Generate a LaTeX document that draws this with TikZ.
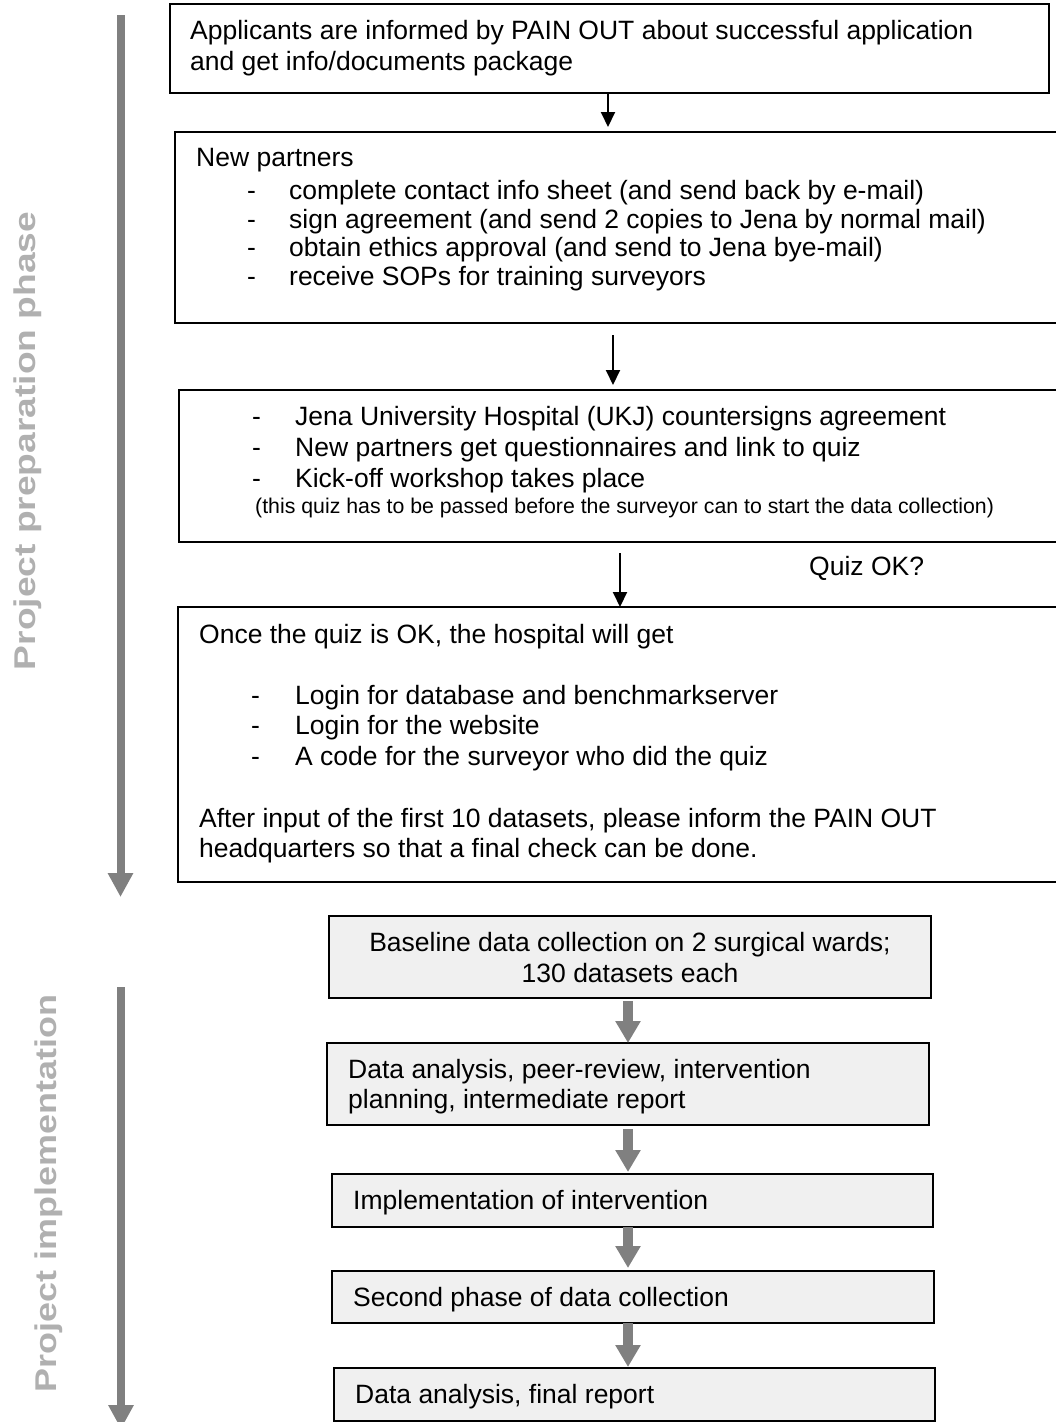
\documentclass[tikz,border=0pt]{standalone}
\usepackage{fontspec}
\setmainfont{Liberation Sans}
\usetikzlibrary{arrows.meta}
\definecolor{barg}{HTML}{808080}
\definecolor{labg}{HTML}{B0B0B0}
\definecolor{boxf}{HTML}{F0F0F0}
\begin{document}
\begin{tikzpicture}[x=1pt,y=-1pt,
  box/.style={draw=black, line width=1.3pt, fill=white, rectangle, inner sep=0pt, outer sep=0pt, anchor=north west},
  gbox/.style={box, fill=boxf},
  txt/.style={anchor=base west, inner sep=0pt, font=\fontsize{26.5pt}{30pt}\selectfont},
  ctxt/.style={txt, anchor=base},
  smalltxt/.style={txt, font=\fontsize{21.3pt}{25pt}\selectfont},
  blk/.style={line width=2pt, -{Triangle[width=14pt,length=15pt]}},
  garr/.style={draw=barg, line width=10pt, -{Triangle[width=24pt,length=22pt]}},
  phasebar/.style={draw=barg, line width=8pt, -{Triangle[width=24pt,length=24pt]}},
  lab/.style={rotate=90, inner sep=0pt, text=labg, font=\fontsize{30pt}{36pt}\selectfont\bfseries}]
\useasboundingbox (0,0) rectangle (1056,1422);
\clip (0,0) rectangle (1056,1422);

% boxes
\node[box, minimum width=879pt, minimum height=89pt] (b1) at (170,4) {};
\node[box, minimum width=895pt, minimum height=191pt] (b2) at (175,132) {};
\node[box, minimum width=891pt, minimum height=152pt] (b3) at (179,390) {};
\node[box, minimum width=892pt, minimum height=275pt] (b4) at (178,607) {};
\node[gbox, minimum width=602pt, minimum height=82pt] (b5) at (329,916) {};
\node[gbox, minimum width=602pt, minimum height=82pt] (b6) at (327,1043) {};
\node[gbox, minimum width=601pt, minimum height=53pt] (b7) at (332,1174) {};
\node[gbox, minimum width=602pt, minimum height=52pt] (b8) at (332,1271) {};
\node[gbox, minimum width=601pt, minimum height=53pt] (b9) at (334,1368) {};

% phase bars and labels
\coordinate (pb1) at (120.5,15);
\coordinate (pb2) at (120.5,897);
\coordinate (ib1) at (121,987);
\coordinate (ib2) at (121,1429);
\draw[phasebar] (pb1) -- (pb2);
\draw[phasebar] (ib1) -- (ib2);
\node[lab] (lab1) at (27.5,441) {\scalebox{1.238}[1]{Project preparation phase}};
\node[lab] (lab2) at (48.5,1193.5) {\scalebox{1.198}[1]{Project implementation}};

% black arrows
\coordinate (ax1) at (608,0);
\coordinate (ax2) at (613,0);
\coordinate (ax3) at (620,0);
\draw[blk, shorten >=5pt] (b1.south -| ax1) -- (b2.north -| ax1);
\draw[blk, shorten <=12pt, shorten >=5pt] (b2.south -| ax2) -- (b3.north -| ax2);
\draw[blk, shorten <=11pt] (b3.south -| ax3) -- (b4.north -| ax3);

% gray arrows
\coordinate (ga) at (628,0);
\draw[garr, shorten <=3pt] (b5.south -| ga) -- (b6.north -| ga);
\draw[garr, shorten <=4pt, shorten >=2pt] (b6.south -| ga) -- (b7.north -| ga);
\draw[garr, shorten >=3pt] (b7.south -| ga) -- (b8.north -| ga);
\draw[garr, shorten >=1pt] (b8.south -| ga) -- (b9.north -| ga);

% texts
\node[txt] (t1a) at (190,39) {Applicants are informed by PAIN OUT about successful application};
\node[txt] (t1b) at (190,70) {and get info/documents package};

\node[txt] (t2a) at (196,166) {New partners};
\node[txt] (t2b) at (247,199) {\makebox[42pt][l]{-}complete contact info sheet (and send back by e-mail)};
\node[txt] (t2c) at (247,228) {\makebox[42pt][l]{-}sign agreement (and send 2 copies to Jena by normal mail)};
\node[txt] (t2d) at (247,256) {\makebox[42pt][l]{-}obtain ethics approval (and send to Jena bye-mail)};
\node[txt] (t2e) at (247,285) {\makebox[42pt][l]{-}receive SOPs for training surveyors};

\node[txt] (t3a) at (252,425) {\makebox[43pt][l]{-}Jena University Hospital (UKJ) countersigns agreement};
\node[txt] (t3b) at (252,456) {\makebox[43pt][l]{-}New partners get questionnaires and link to quiz};
\node[txt] (t3c) at (252,487) {\makebox[43pt][l]{-}Kick-off workshop takes place};
\node[smalltxt] (t3d) at (255,513) {(this quiz has to be passed before the surveyor can to start the data collection)};

\node[txt] (quiz) at (809,575) {Quiz OK?};

\node[txt] (t4a) at (199,643) {Once the quiz is OK, the hospital will get};
\node[txt] (t4b) at (251,704) {\makebox[44pt][l]{-}Login for database and benchmarkserver};
\node[txt] (t4c) at (251,734) {\makebox[44pt][l]{-}Login for the website};
\node[txt] (t4d) at (251,765) {\makebox[44pt][l]{-}A code for the surveyor who did the quiz};
\node[txt] (t4e) at (199,827) {After input of the first 10 datasets, please inform the PAIN OUT};
\node[txt] (t4f) at (199,857) {headquarters so that a final check can be done.};

\node[ctxt] (t5a) at (630,951) {Baseline data collection on 2 surgical wards;};
\node[ctxt] (t5b) at (630,982) {130 datasets each};
\node[txt] (t6a) at (348,1078) {Data analysis, peer-review, intervention};
\node[txt] (t6b) at (348,1108) {planning, intermediate report};
\node[txt] (t7) at (353,1209) {Implementation of intervention};
\node[txt] (t8) at (353,1306) {Second phase of data collection};
\node[txt] (t9) at (355,1403) {Data analysis, final report};
\end{tikzpicture}
\end{document}
